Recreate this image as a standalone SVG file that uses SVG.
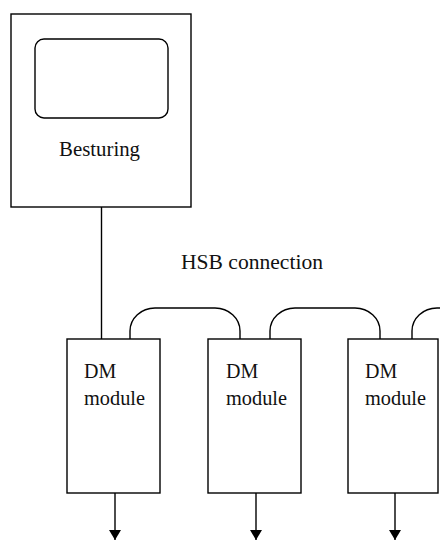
<svg xmlns="http://www.w3.org/2000/svg" width="440" height="541" viewBox="0 0 440 541">
<style>
.b{fill:#fff;stroke:#000;stroke-width:1.4}
.c{fill:none;stroke:#000;stroke-width:1.4}
.t{font-family:"Liberation Serif","Times New Roman",serif;fill:#111;font-size:20px}
</style>
<defs>
<marker id="ah" markerWidth="10" markerHeight="12" refX="10" refY="6" orient="auto" markerUnits="userSpaceOnUse" viewBox="0 0 10 12">
<path d="M0,0 L10,6 L0,12 Z" fill="#000"/>
</marker>
</defs>
<rect width="440" height="541" fill="#fff"/>
<g id="connectors">
<line class="c" x1="101.5" y1="207" x2="101.5" y2="339"/>
<path class="c" d="M130,339 V331 A25,23 0 0 1 155,308 H215 A25,23 0 0 1 240,331 V339"/>
<path class="c" d="M270,339 V331 A25,23 0 0 1 295,308 H355 A25,23 0 0 1 380,331 V339"/>
<path class="c" d="M412,339 V331 A25,23 0 0 1 437,308 H440"/>
<line class="c" x1="115" y1="493" x2="115" y2="540" marker-end="url(#ah)"/>
<line class="c" x1="256" y1="493" x2="256" y2="540" marker-end="url(#ah)"/>
<line class="c" x1="395" y1="493" x2="395" y2="540" marker-end="url(#ah)"/>
<text class="t" x="181" y="269" font-size="19" textLength="142" lengthAdjust="spacingAndGlyphs">HSB connection</text>
</g>
<g id="besturing">
<rect class="b" x="11" y="14" width="180" height="193"/>
<rect class="b" x="35" y="39" width="133" height="79" rx="9" ry="9"/>
<text class="t" x="59" y="156" textLength="81" lengthAdjust="spacingAndGlyphs">Besturing</text>
</g>
<g id="dm1">
<rect class="b" x="67" y="339" width="93" height="154"/>
<text class="t" x="84" y="378">DM</text>
<text class="t" x="84" y="405" textLength="61" lengthAdjust="spacingAndGlyphs">module</text>
</g>
<g id="dm2">
<rect class="b" x="208" y="339" width="93" height="154"/>
<text class="t" x="226" y="378">DM</text>
<text class="t" x="226" y="405" textLength="61" lengthAdjust="spacingAndGlyphs">module</text>
</g>
<g id="dm3">
<rect class="b" x="348" y="339" width="90" height="154"/>
<text class="t" x="365" y="378">DM</text>
<text class="t" x="365" y="405" textLength="61" lengthAdjust="spacingAndGlyphs">module</text>
</g>
</svg>
